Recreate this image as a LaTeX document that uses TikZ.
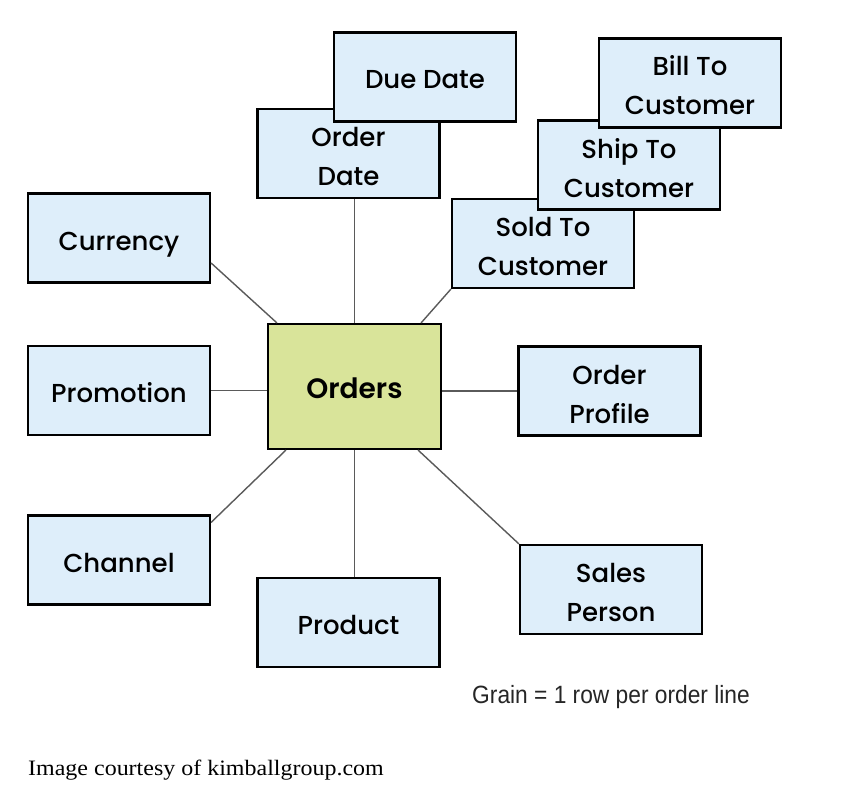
\documentclass[tikz,border=0pt]{standalone}
\usepackage{fontspec}
\setmainfont{Poppins Medium}[BoldFont={Poppins SemiBold}]
\newfontfamily\grainfont[FakeStretch=0.91]{Liberation Sans}
\newfontfamily\capfont[FakeStretch=1.09]{Liberation Serif}
\usetikzlibrary{calc}
\definecolor{boxblue}{HTML}{DEEEFA}
\definecolor{ordgreen}{HTML}{D9E49A}
\definecolor{linkgray}{HTML}{5A5A5A}
\tikzset{
  dim/.style={draw=black, line width=2.2pt, fill=boxblue, minimum width=182pt, minimum height=89pt,
    align=center, inner sep=0pt, font=\fontsize{26}{39}\selectfont},
  one/.style={dim, text height=24pt, text depth=0pt},
  two/.style={dim, text height=64pt, text depth=0pt},
  fact/.style={draw=black, line width=2.2pt, fill=ordgreen, minimum width=173pt, minimum height=125pt,
    inner sep=0pt, text height=24pt, text depth=0pt, font=\fontsize{28}{32}\selectfont\bfseries},
  link/.style={draw=linkgray, line width=1.4pt}
}
\begin{document}
\begin{tikzpicture}[x=1pt,y=-1pt]
\path[use as bounding box, fill=white] (0,0) rectangle (850,805);
\node[two] (odate) at (348.5,153.5) {Order\\Date};
\node[one] (due) at (425,77) {Due Date};
\node[two] (sold) at (543,243.5) {Sold To\\Customer};
\node[two] (ship) at (629,165) {Ship To\\Customer};
\node[two] (bill) at (690,83) {Bill To\\Customer};
\node[one] (cur) at (119,238) {Currency};
\node[one] (promo) at (119,390.5) {Promotion};
\node[fact] (ord) at (354.5,386.5) {Orders};
\node[two] (prof) at (609.5,391) {Order\\Profile};
\node[one] (chan) at (119,560) {Channel};
\node[one] (prod) at (348.5,622.5) {Product};
\node[two] (sales) at (611,589.5) {Sales\\Person};
\draw[link] ($(cur.east)+(0pt,-25pt)$) -- ($(ord.north west)+(10pt,0pt)$);
\draw[link] (ord.north) -- (ord.north |- odate.south);
\draw[link] (sold.south west) -- ($(ord.north east)+(-21pt,0pt)$);
\draw[link] (promo.east) -- (promo.east -| ord.west);
\draw[link] (ord.east |- prof.west) -- (prof.west);
\draw[link] ($(chan.north east)+(0pt,-8pt)$) -- ($(ord.south west)+(19pt,0pt)$);
\draw[link] (ord.south) -- (ord.south |- prod.north);
\draw[link] ($(ord.south east)+(-24pt,0pt)$) -- (sales.north west);
\node[font=\grainfont\fontsize{25}{28}\selectfont, text=black!85] (grain) at (611,697) {Grain = 1 row per order line};
\node[font=\capfont\fontsize{22}{26}\selectfont, anchor=west, inner sep=0pt] (cap) at (28,770) {Image courtesy of kimballgroup.com};
\end{tikzpicture}
\end{document}
